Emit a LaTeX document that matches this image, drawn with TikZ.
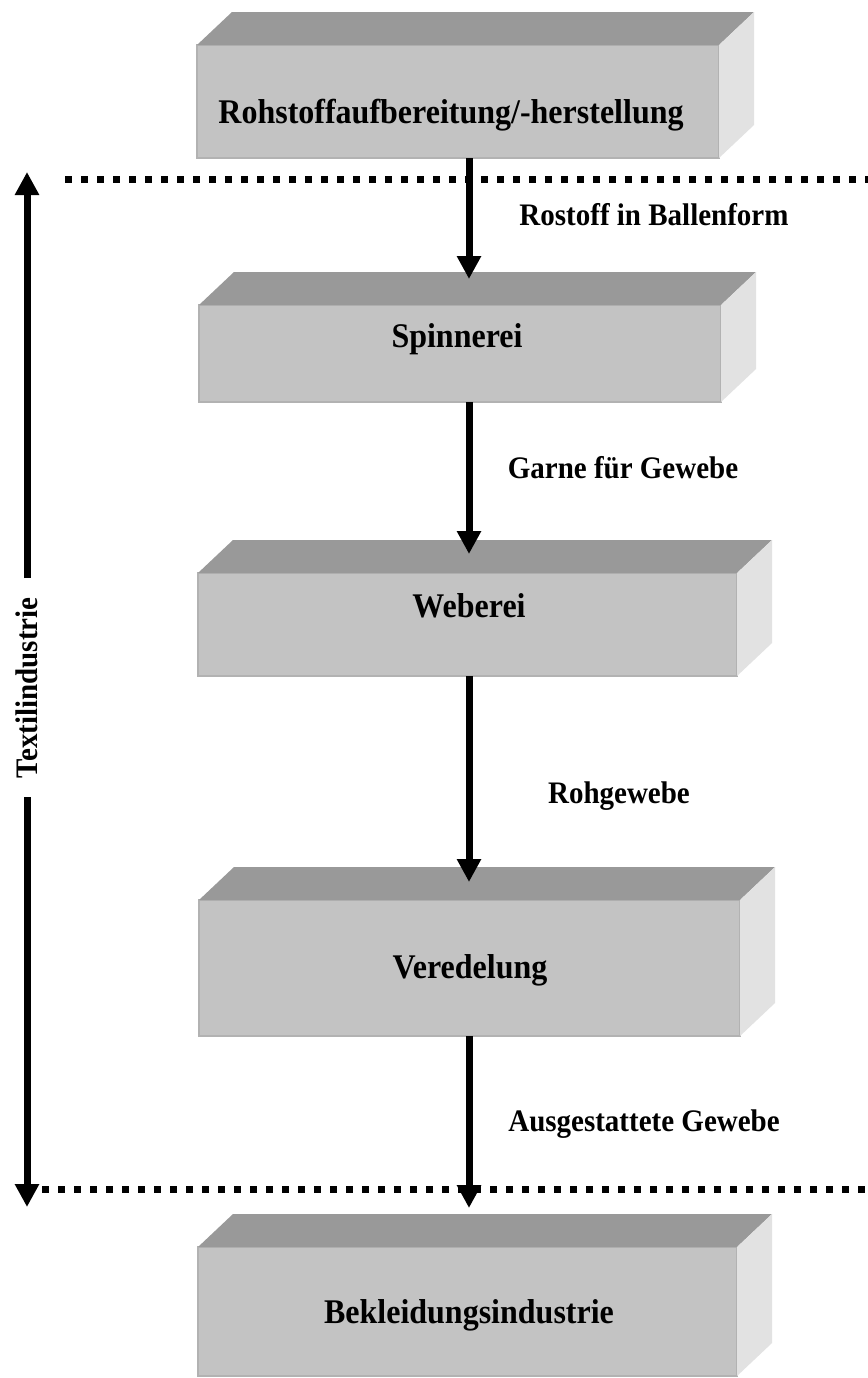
\documentclass[tikz,border=0pt]{standalone}
\usepackage{fontspec}
\usepackage{graphicx}
\setmainfont{Liberation Serif}
\usetikzlibrary{arrows.meta,calc,fit}
\definecolor{topc}{HTML}{999999}
\definecolor{frontc}{HTML}{C3C3C3}
\definecolor{sidec}{HTML}{E2E2E2}
\definecolor{edgec}{HTML}{B2B2B2}
\newcommand\tall[1]{\scalebox{1}[1.08]{#1}}
\newcommand\solidbox[5]{%
  \node[front, fit={(#2,#3)(#4,#5)}] (#1) {};
  \fill[topc] (#1.north west) -- ++(35,-33) -- ($(#1.north east)+(35,-33)$) -- (#1.north east) -- cycle;
  \fill[sidec] (#1.north east) -- ++(35,-33) -- ($(#1.south east)+(35,-33)$) -- (#1.south east) -- cycle;
}
\begin{document}
\begin{tikzpicture}[x=0.5pt,y=-0.5pt,
  front/.style={fill=frontc, draw=edgec, line width=0.6pt, inner sep=0pt, outer sep=0pt},
  boxlabel/.style={font=\fontsize{16}{19}\selectfont\bfseries, anchor=base, inner sep=0pt},
  flowlabel/.style={font=\fontsize{14.5}{17}\selectfont\bfseries, anchor=base, inner sep=0pt},
  flow/.style={line width=3.5pt, -{Triangle[length=11.5pt,width=11.5pt]}},
  dotline/.style={line width=3.5pt, dash pattern=on 3.5pt off 4.5pt}
]
\useasboundingbox (0,0) rectangle (868,1378);
\fill[white] (0,0) rectangle (868,1378);

% boxes
\solidbox{b1}{197}{45}{719}{158}
\solidbox{b2}{199}{305}{721}{402}
\solidbox{b3}{198}{573}{737}{676}
\solidbox{b4}{199}{900}{740}{1036}
\solidbox{b5}{198}{1247}{737}{1376}

\node[boxlabel] (l1) at (451,123) {\tall{Rohstoffaufbereitung/-herstellung}};
\node[boxlabel] (l2) at (457,347) {\tall{Spinnerei}};
\node[boxlabel] (l3) at (469,617) {\tall{Weberei}};
\node[boxlabel] (l4) at (470,978) {\tall{Veredelung}};
\node[boxlabel] (l5) at (469,1323) {\tall{Bekleidungsindustrie}};

% dotted boundaries
\coordinate (d1a) at (65,179);  \coordinate (d1b) at (868,179);
\coordinate (d2a) at (42,1189); \coordinate (d2b) at (868,1189);
\draw[dotline] (d1a) -- (d1b);
\draw[dotline] (d2a) -- (d2b);

% flow arrows
\coordinate (t2) at (469,279);
\coordinate (t3) at (469,554);
\coordinate (t4) at (469,882);
\coordinate (t5) at (469,1208);
\draw[flow] (b1.south -| t2) -- (t2);
\draw[flow] (b2.south -| t3) -- (t3);
\draw[flow] (b3.south -| t4) -- (t4);
\draw[flow] (b4.south -| t5) -- (t5);

\node[flowlabel] (e1) at (654,225) {\tall{Rostoff in Ballenform}};
\node[flowlabel] (e2) at (623,478) {\tall{Garne für Gewebe}};
\node[flowlabel] (e3) at (619,803) {\tall{Rohgewebe}};
\node[flowlabel] (e4) at (644,1131) {\tall{Ausgestattete Gewebe}};

% Textilindustrie
\node[font=\fontsize{14.5}{17}\selectfont\bfseries, rotate=90, inner sep=0pt] (ti) at (27,688) {\tall{Textilindustrie}};
\coordinate (lt) at (27,172);
\coordinate (lb) at (27,1207);
\coordinate (lg1) at (27,578);
\coordinate (lg2) at (27,797);
\draw[flow] (lg1) -- (lt);
\draw[flow] (lg2) -- (lb);
\end{tikzpicture}
\end{document}
